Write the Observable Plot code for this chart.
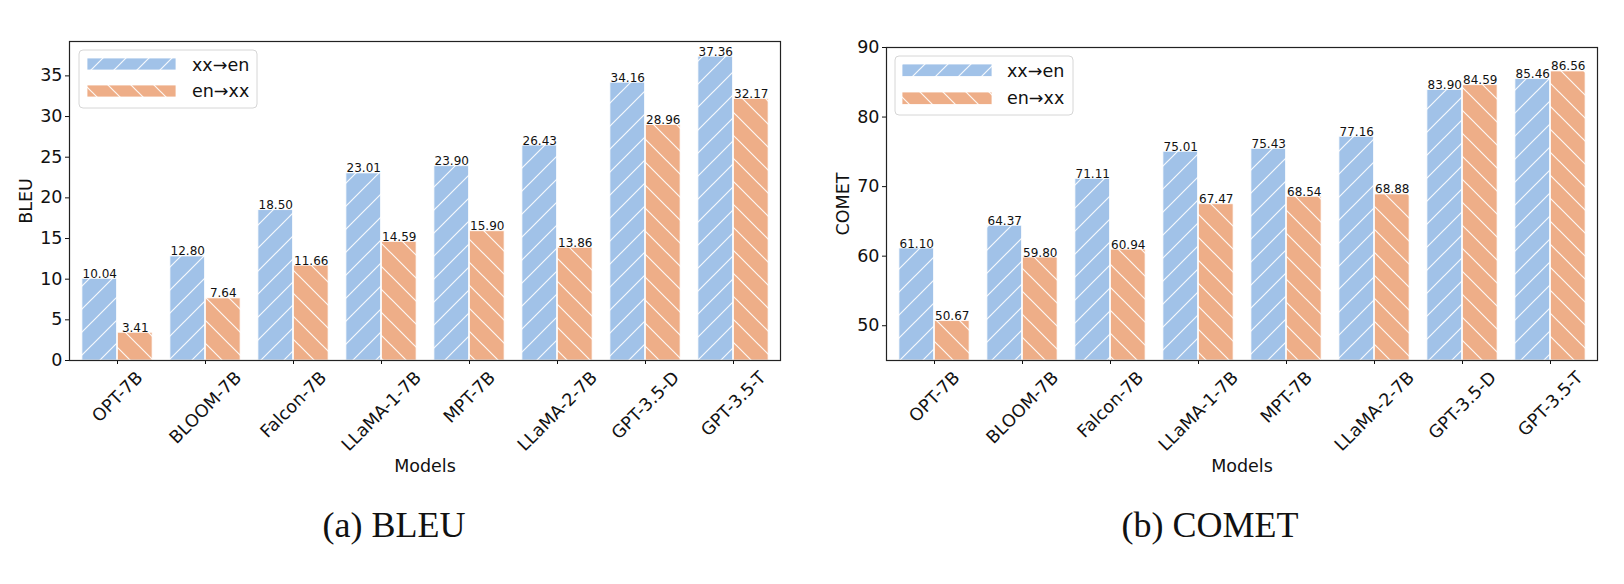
<!DOCTYPE html>
<html><head><meta charset="utf-8">
<script src="https://cdn.jsdelivr.net/npm/d3@7"></script>
<script src="https://cdn.jsdelivr.net/npm/@observablehq/plot@0.6"></script>
<style>
html,body{margin:0;padding:0;background:#fff;}
#wrap{position:relative;width:1624px;height:584px;overflow:hidden;font-family:"DejaVu Sans",sans-serif;background:#fff;}
#wrap > svg{position:absolute;top:0;}
#overlay{pointer-events:none;z-index:5;}
</style></head><body>
<svg width="0" height="0" style="position:absolute">
  <defs>
    <pattern id="hatch-xx" patternUnits="userSpaceOnUse" width="23" height="23">
      <rect width="23" height="23" fill="#a1c2e8"/>
      <path d="M0,23L23,0M-5.75,5.75L5.75,-5.75M17.25,28.75L28.75,17.25" stroke="#fff" stroke-width="1.2" stroke-opacity="0.9"/>
    </pattern>
    <pattern id="hatch-en" patternUnits="userSpaceOnUse" width="23" height="23">
      <rect width="23" height="23" fill="#eeae88"/>
      <path d="M0,0L23,23M-5.75,17.25L5.75,28.75M17.25,-5.75L28.75,5.75" stroke="#fff" stroke-width="1.2" stroke-opacity="0.9"/>
    </pattern>
  </defs>
</svg>
<div id="wrap"></div>
<script>
const models = ["OPT-7B","BLOOM-7B","Falcon-7B","LLaMA-1-7B","MPT-7B","LLaMA-2-7B","GPT-3.5-D","GPT-3.5-T"];
const series = ["xx→en","en→xx"];
const bleuXxEn = [10.04,12.80,18.50,23.01,23.90,26.43,34.16,37.36];
const bleuEnXx = [3.41,7.64,11.66,14.59,15.90,13.86,28.96,32.17];
const cometXxEn = [61.10,64.37,71.11,75.01,75.43,77.16,83.90,85.46];
const cometEnXx = [50.67,59.80,60.94,67.47,68.54,68.88,84.59,86.56];
const bleuTicks = [0,5,10,15,20,25,30,35];
const cometTicks = [50,60,70,80,90];
const captions = ["(a) BLEU","(b) COMET"];
const FONT = "DejaVu Sans";
const FS = 17.5;
const patterns = ["url(#hatch-xx)","url(#hatch-en)"];

function rows(a, b) {
  return models.flatMap((m, i) => [
    {model: m, series: series[0], value: a[i]},
    {model: m, series: series[1], value: b[i]}
  ]);
}

const ctx = document.createElement("canvas").getContext("2d");
ctx.font = `${FS}px "${FONT}"`;
function labelDy(t) {
  const w = ctx.measureText(t).width;
  return 7 + (w + 1.17 * FS) * Math.SQRT1_2 / 2;
}

function chart({a, b, yDomain, yTicks, yLabel, width, height, ml, mr, mt, mb}) {
  const data = rows(a, b);
  const bw = (width - ml - mr) / models.length;
  const marks = [];
  series.forEach((s, k) => {
    const sub = data.filter(d => d.series === s);
    marks.push(Plot.barY(sub, {
      x: "model", y1: yDomain[0], y2: "value", fill: patterns[k],
      stroke: "white", strokeWidth: 1, strokeOpacity: 0.8,
      insetLeft: (k === 0 ? 0.1 : 0.5) * bw, insetRight: (k === 0 ? 0.5 : 0.1) * bw
    }));
    marks.push(Plot.text(sub, {
      x: "model", y: "value", text: d => d.value.toFixed(2),
      dx: (k === 0 ? -0.2 : 0.2) * bw, dy: -1, lineAnchor: "bottom",
      fontSize: 12, fill: "#111"
    }));
  });
  marks.push(Plot.axisY({ticks: yTicks, tickSize: 4, tickPadding: 3, fontSize: FS, label: null}));
  marks.push(Plot.axisX({tickSize: 4, tickFormat: () => "", label: null}));
  models.forEach(m => marks.push(Plot.text([m], {
    x: d => d, text: d => d, frameAnchor: "bottom", rotate: -45,
    textAnchor: "middle", lineAnchor: "middle", dy: labelDy(m), fontSize: FS, fill: "#111"
  })));
  marks.push(Plot.text([yLabel], {text: d => d, frameAnchor: "left", rotate: -90, dx: -43,
    textAnchor: "middle", lineAnchor: "middle", fontSize: FS, fill: "#111"}));
  marks.push(Plot.text(["Models"], {text: d => d, frameAnchor: "bottom", dy: 106,
    textAnchor: "middle", lineAnchor: "middle", fontSize: FS, fill: "#111"}));
  marks.push(Plot.frame({stroke: "#222", strokeWidth: 1.2}));
  return Plot.plot({
    width, height, marginLeft: ml, marginRight: mr, marginTop: mt, marginBottom: mb,
    x: {domain: models, padding: 0},
    y: {domain: yDomain},
    style: {fontFamily: FONT, fontSize: FS + "px", color: "#111", overflow: "visible", background: "transparent"},
    marks
  });
}

const wrap = document.getElementById("wrap");
const left = chart({a: bleuXxEn, b: bleuEnXx, yDomain: [0, d3.max(bleuXxEn.concat(bleuEnXx)) * 1.05],
  yTicks: bleuTicks, yLabel: "BLEU", width: 800, height: 500, ml: 69, mr: 20, mt: 41, mb: 140});
left.style.left = "0px";
wrap.appendChild(left);
const right = chart({a: cometXxEn, b: cometEnXx, yDomain: [45, 90],
  yTicks: cometTicks, yLabel: "COMET", width: 824, height: 500, ml: 86, mr: 27, mt: 47, mb: 140});
right.style.left = "800px";
wrap.appendChild(right);

// overlay: legends and captions
const ov = d3.select(wrap).append("svg").attr("id", "overlay")
  .attr("width", 1624).attr("height", 584).style("left", "0px");
const legends = [
  {x: 79, y: 50, w: 178, h: 58, sx: 87, sw: 89, sy: [58, 85], sh: 12, tx: 192, ty: [71, 97]},
  {x: 895, y: 56, w: 178, h: 59, sx: 902, sw: 90, sy: [64, 92], sh: 12.5, tx: 1007, ty: [77, 104]}
];
legends.forEach(L => {
  ov.append("rect").attr("x", L.x).attr("y", L.y).attr("width", L.w).attr("height", L.h)
    .attr("rx", 4).attr("fill", "white").attr("fill-opacity", 0.85)
    .attr("stroke", "#d6d6d6").attr("stroke-width", 1);
  series.forEach((s, k) => {
    ov.append("rect").attr("x", L.sx).attr("y", L.sy[k]).attr("width", L.sw).attr("height", L.sh)
      .attr("fill", patterns[k]).attr("stroke", "white").attr("stroke-width", 0.8);
    ov.append("text").attr("x", L.tx).attr("y", L.ty[k]).text(s)
      .attr("font-family", FONT).attr("font-size", FS).attr("fill", "#111");
  });
});
[[394, captions[0]], [1210, captions[1]]].forEach(([x, t]) => {
  ov.append("text").attr("x", x).attr("y", 537).attr("text-anchor", "middle").text(t)
    .attr("font-family", "Liberation Serif, Times New Roman, serif").attr("font-size", 36).attr("fill", "#111");
});
</script>
</body></html>
